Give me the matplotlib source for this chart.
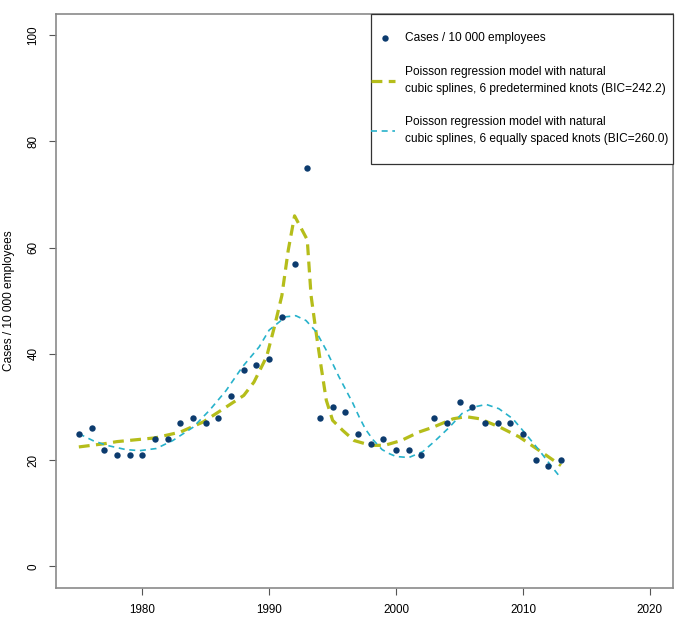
import matplotlib
matplotlib.use("Agg")
import matplotlib.pyplot as plt
from matplotlib.lines import Line2D
from matplotlib.patches import Rectangle

plt.rcParams['font.family'] = ['Liberation Sans', 'DejaVu Sans']

# observed data
years = list(range(1975, 2014))
cases = [25, 26, 22, 21, 21, 21, 24, 24, 27, 28, 27, 28, 32, 37, 38, 39,
         47, 57, 75, 28, 30, 29, 25, 23, 24, 22, 22, 21, 28, 27, 31, 30,
         27, 27, 27, 25, 20, 19, 20]

# model 1: predetermined knots
m1_x = [1975.0, 1977.0, 1978.0, 1981.0, 1983.0, 1984.8, 1986.6, 1988.0, 1988.8,
        1989.8, 1990.4, 1991.0, 1991.5, 1992.0, 1993.0, 1993.3, 1993.7, 1994.1,
        1994.5, 1995.0, 1995.8, 1996.7, 1998.0, 1999.1, 2000.4, 2001.8, 2002.9,
        2004.5, 2005.5, 2006.6, 2008.2, 2009.7, 2011.3, 2013.0]
m1_y = [22.5, 23.1, 23.5, 24.2, 25.3, 27.2, 30.0, 32.2, 34.7,
        39.5, 45.0, 51.0, 59.5, 66.0, 61.5, 51.0, 44.0, 37.5,
        31.3, 27.5, 25.6, 23.7, 22.8, 22.8, 23.7, 25.3, 26.2,
        27.8, 28.2, 27.8, 26.2, 24.4, 21.8, 19.0]

# model 2: equally spaced knots
m2_x = [1975.0, 1976.1, 1977.2, 1978.7, 1979.8, 1981.1, 1982.4, 1984.0, 1985.3,
        1986.6, 1987.9, 1989.2, 1990.0, 1991.3, 1992.1, 1992.9, 1993.7, 1994.5,
        1995.5, 1996.6, 1997.1, 1997.6, 1998.2, 1998.9, 1999.5, 2000.0, 2001.0,
        2002.1, 2003.1, 2004.2, 2005.2, 2006.3, 2007.1, 2008.1, 2009.2, 2010.2,
        2011.3, 2012.3, 2013.0]
m2_y = [25.0, 23.7, 22.8, 22.0, 21.8, 22.2, 23.7, 26.2, 29.4,
        33.1, 37.6, 41.3, 44.5, 47.0, 47.2, 46.3, 44.2, 40.7,
        35.7, 30.7, 28.1, 25.8, 23.8, 22.0, 21.2, 20.7, 20.5,
        21.6, 23.7, 26.2, 28.8, 30.1, 30.5, 29.7, 27.8, 25.0,
        21.8, 18.7, 16.6]

x_ticks = [1980, 1990, 2000, 2010, 2020]
y_ticks = [0, 20, 40, 60, 80, 100]

legend_labels = ["Cases / 10 000 employees",
                 ["Poisson regression model with natural",
                  "cubic splines, 6 predetermined knots (BIC=242.2)"],
                 ["Poisson regression model with natural",
                  "cubic splines, 6 equally spaced knots (BIC=260.0)"]]

c_pts = '#0c3b6e'
c_green = '#b5bd1a'
c_cyan = '#27b2cb'

W, H = 689, 626
fig = plt.figure(figsize=(W / 100, H / 100), dpi=100)
L, R, T, B = 56, 672.7, 14, 587.7
ax = fig.add_axes([L / W, (H - B) / H, (R - L) / W, (B - T) / H])

ax.plot(years, cases, 'o', color=c_pts, ms=4.6, mew=0, zorder=3)
g, = ax.plot(m1_x, m1_y, color=c_green, lw=2.3, zorder=2)
g.set_dashes((3.4, 2.0))
c, = ax.plot(m2_x, m2_y, color=c_cyan, lw=1.2, zorder=2)
c.set_dashes((3.6, 2.8))

ax.set_xlim(1973.2, 2021.8)
ax.set_ylim(-4, 104)
ax.set_xticks(x_ticks)
ax.set_yticks(y_ticks)
ax.set_xticklabels([str(v) for v in x_ticks], fontsize=8.4)
ax.set_yticklabels([str(v) for v in y_ticks], fontsize=8.4, rotation=90, va='center')
ax.tick_params(axis='both', length=5, width=0.8, color='#555555')
ax.tick_params(axis='x', pad=6.5)
ax.tick_params(axis='y', pad=7)
for s in ax.spines.values():
    s.set_color('#8a8a8a')
    s.set_linewidth(1.2)
ax.set_ylabel("Cases / 10 000 employees", fontsize=8.6, va='center', ha='center')
ax.yaxis.set_label_coords(-0.076, 0.5)

# legend drawn in axes-fraction coordinates derived from pixel layout
def fx(px):
    return (px - L) / (R - L)

def fy(py):
    return (B - py) / (B - T)

tr = ax.transAxes
ax.add_patch(Rectangle((fx(371), fy(164)), fx(672.7) - fx(371), fy(14) - fy(164),
                       transform=tr, fill=True, facecolor='white',
                       edgecolor='#333333', lw=0.9, zorder=5, clip_on=False))
ax.add_line(Line2D([fx(385)], [fy(38)], marker='o', ms=4.6, mew=0, color=c_pts,
                   transform=tr, zorder=6))
ax.text(fx(405), fy(38), legend_labels[0], transform=tr, fontsize=8.6,
        va='center', ha='left', zorder=6)
lg = Line2D([fx(371), fx(395)], [fy(80.5), fy(80.5)], color=c_green, lw=2.3,
            transform=tr, zorder=6)
lg.set_dashes((3.4, 2.0))
ax.add_line(lg)
ax.text(fx(405), fy(72), legend_labels[1][0], transform=tr, fontsize=8.6,
        va='center', ha='left', zorder=6)
ax.text(fx(405), fy(89), legend_labels[1][1], transform=tr, fontsize=8.6,
        va='center', ha='left', zorder=6)
lc = Line2D([fx(371), fx(395)], [fy(130.5), fy(130.5)], color=c_cyan, lw=1.2,
            transform=tr, zorder=6)
lc.set_dashes((3.6, 2.8))
ax.add_line(lc)
ax.text(fx(405), fy(122), legend_labels[2][0], transform=tr, fontsize=8.6,
        va='center', ha='left', zorder=6)
ax.text(fx(405), fy(139), legend_labels[2][1], transform=tr, fontsize=8.6,
        va='center', ha='left', zorder=6)

fig.savefig('out.png', dpi=100)
